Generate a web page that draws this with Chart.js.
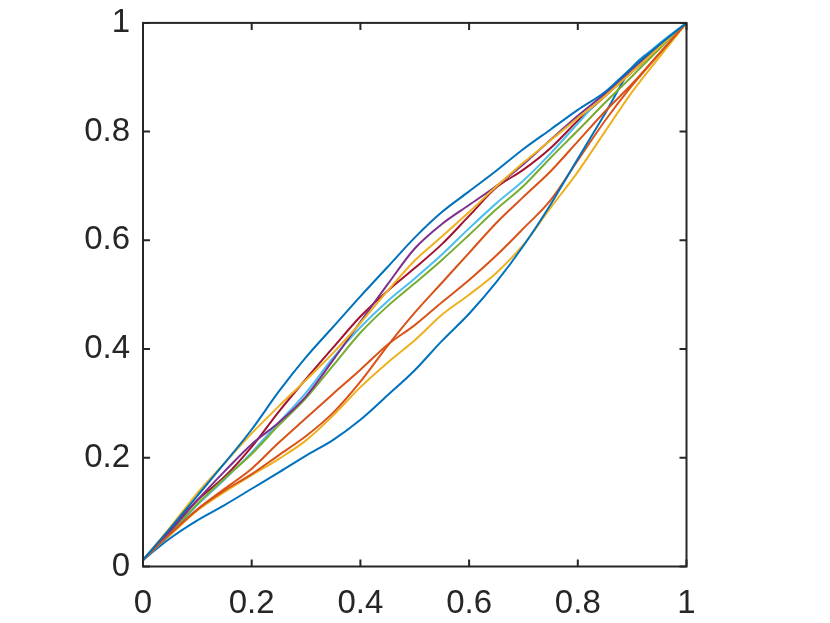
<!DOCTYPE html>
<html>
<head>
<meta charset="utf-8">
<script src="https://cdn.jsdelivr.net/npm/chart.js@4.4.0/dist/chart.umd.min.js"></script>
<style>
  html, body { margin: 0; padding: 0; background: #fff; }
</style>
</head>
<body>
<canvas id="myChart" width="830" height="623"></canvas>
<script>
// x positions shared by every curve
let xs = [0, 0.05, 0.1, 0.15, 0.2, 0.25, 0.3, 0.35, 0.4, 0.45, 0.5, 0.55, 0.6, 0.65, 0.7, 0.75, 0.8, 0.85, 0.9, 0.95, 1]

// curves, in MATLAB colour order
let blueUpper   = [0.012, 0.07, 0.13, 0.19, 0.252, 0.322, 0.385, 0.441, 0.497, 0.551, 0.605, 0.652, 0.69, 0.728, 0.768, 0.804, 0.84, 0.873, 0.918, 0.96, 1]
let orangeA     = [0.012, 0.06, 0.105, 0.14, 0.17, 0.205, 0.24, 0.283, 0.34, 0.406, 0.467, 0.522, 0.577, 0.632, 0.68, 0.727, 0.782, 0.837, 0.888, 0.944, 1]
let yellowUpper = [0.012, 0.072, 0.135, 0.19, 0.245, 0.295, 0.343, 0.393, 0.448, 0.507, 0.563, 0.607, 0.652, 0.699, 0.743, 0.784, 0.825, 0.865, 0.91, 0.955, 1]
let purple      = [0.012, 0.065, 0.122, 0.175, 0.225, 0.265, 0.313, 0.38, 0.45, 0.519, 0.585, 0.63, 0.665, 0.7, 0.74, 0.785, 0.829, 0.87, 0.915, 0.957, 1]
let green       = [0.012, 0.062, 0.115, 0.162, 0.207, 0.26, 0.31, 0.37, 0.43, 0.479, 0.521, 0.564, 0.61, 0.657, 0.7, 0.752, 0.802, 0.853, 0.902, 0.952, 1]
let lightBlue   = [0.012, 0.06, 0.113, 0.16, 0.21, 0.265, 0.32, 0.384, 0.44, 0.488, 0.53, 0.574, 0.622, 0.668, 0.71, 0.76, 0.815, 0.87, 0.918, 0.962, 1]
let darkRed     = [0.012, 0.068, 0.122, 0.165, 0.22, 0.285, 0.345, 0.403, 0.46, 0.507, 0.549, 0.593, 0.645, 0.697, 0.73, 0.77, 0.82, 0.865, 0.91, 0.955, 1]
let blueLower   = [0.012, 0.052, 0.085, 0.113, 0.143, 0.173, 0.204, 0.233, 0.27, 0.315, 0.361, 0.415, 0.465, 0.523, 0.59, 0.666, 0.75, 0.833, 0.918, 0.96, 1]
let orangeB     = [0.012, 0.06, 0.105, 0.143, 0.18, 0.228, 0.273, 0.318, 0.362, 0.408, 0.444, 0.486, 0.527, 0.572, 0.622, 0.674, 0.747, 0.82, 0.885, 0.943, 1]
let yellowLower = [0.012, 0.058, 0.103, 0.137, 0.168, 0.198, 0.232, 0.278, 0.33, 0.375, 0.416, 0.463, 0.5, 0.54, 0.592, 0.66, 0.726, 0.8, 0.873, 0.937, 1]

let curves = [blueUpper, orangeA, yellowUpper, purple, green, lightBlue, darkRed, blueLower, orangeB, yellowLower]
let colors = ['#0072BD', '#D95319', '#EDB120', '#7E2F8E', '#77AC30', '#4DBEEE', '#A2142F', '#0072BD', '#D95319', '#EDB120']

let axisColor = '#262626'
let xFont = { family: 'Liberation Sans, Arial, sans-serif', size: 33 }
// small lineHeight so the top label does not push the plot down
let yFont = { family: 'Liberation Sans, Arial, sans-serif', size: 33, lineHeight: 0.6 }

// box round the plot with inward ticks on all four sides
const boxPlugin = {
    id: 'box',
    afterDatasetsDraw(chart) {
        const { ctx, chartArea: a, scales: { x, y } } = chart
        const len = 7
        ctx.save()
        ctx.strokeStyle = axisColor
        ctx.lineWidth = 2
        ctx.beginPath()
        x.ticks.forEach(t => {
            let px = x.getPixelForValue(t.value)
            ctx.moveTo(px, a.bottom); ctx.lineTo(px, a.bottom - len)
            ctx.moveTo(px, a.top); ctx.lineTo(px, a.top + len)
        })
        y.ticks.forEach(t => {
            let py = y.getPixelForValue(t.value)
            ctx.moveTo(a.left, py); ctx.lineTo(a.left + len, py)
            ctx.moveTo(a.right, py); ctx.lineTo(a.right - len, py)
        })
        ctx.stroke()
        ctx.strokeRect(a.left, a.top, a.right - a.left, a.bottom - a.top)
        ctx.restore()
    }
}

function fmt(v) { return String(Number(v.toFixed(1))) }

new Chart(document.getElementById('myChart'), {
    type: 'scatter',
    data: {
        datasets: curves.map((c, i) => ({
            data: c.map((v, j) => ({ x: xs[j], y: v })),
            showLine: true,
            borderColor: colors[i],
            backgroundColor: colors[i],
            borderWidth: 2,
            pointRadius: 0,
            cubicInterpolationMode: 'monotone'
        }))
    },
    options: {
        responsive: false,
        animation: false,
        layout: { padding: { left: 0, right: 143.5, top: 22, bottom: 0 } },
        plugins: { legend: { display: false }, tooltip: { enabled: false } },
        scales: {
            x: {
                type: 'linear', min: 0, max: 1,
                grid: { display: false, drawTicks: false },
                border: { display: false },
                ticks: { stepSize: 0.2, color: axisColor, font: xFont, padding: 18, maxRotation: 0, callback: fmt },
                afterFit: s => { s.height = 56.5 }
            },
            y: {
                type: 'linear', min: 0, max: 1,
                grid: { display: false, drawTicks: false },
                border: { display: false },
                ticks: { stepSize: 0.2, color: axisColor, font: yFont, padding: 13, callback: fmt },
                afterFit: s => { s.width = 143 }
            }
        }
    },
    plugins: [boxPlugin]
})
</script>
</body>
</html>
